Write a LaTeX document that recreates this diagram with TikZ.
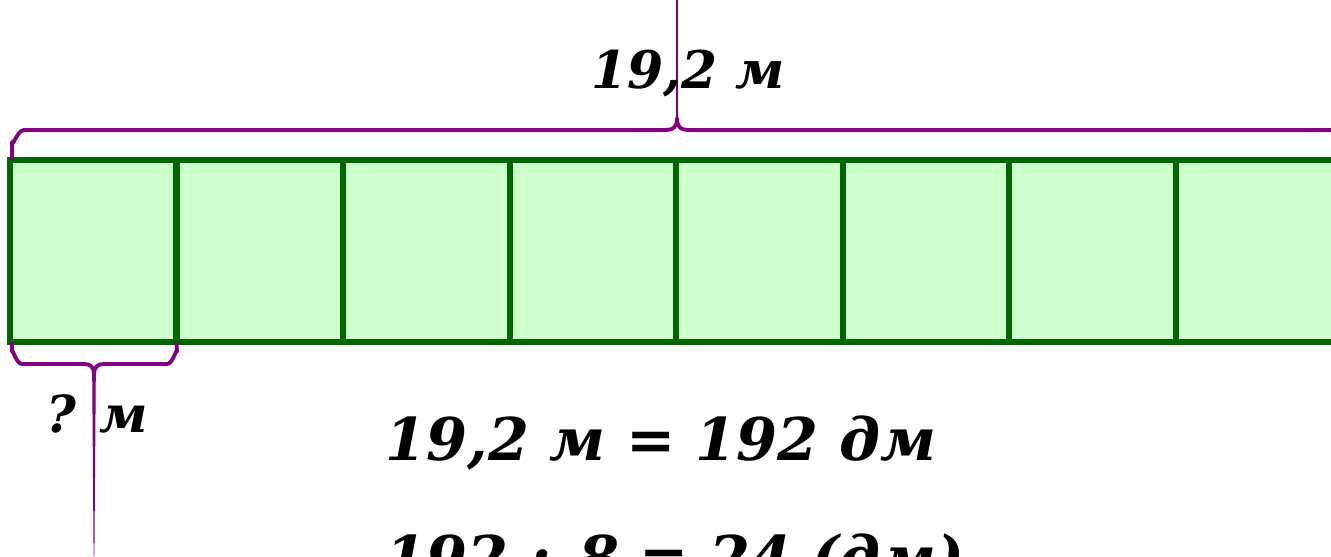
\documentclass[tikz,border=0pt]{standalone}
\usepackage{fontspec}
\setmainfont{DejaVu Serif}
\usepackage{xcolor}
\usepackage{tikz}
\usetikzlibrary{positioning,calc}
\definecolor{stripfill}{HTML}{CCFFCC}
\definecolor{stripline}{HTML}{006600}
\definecolor{bracecol}{HTML}{800080}

\begin{document}
\begin{tikzpicture}[x=0.02cm, y=-0.02cm,
  cell/.style={draw=stripline, fill=stripfill, line width=3.4pt, inner sep=0pt, outer sep=0pt,
    minimum width=3.33cm, minimum height=3.64cm},
  brc/.style={draw=bracecol, line width=2.2pt, line join=round},
  lbl/.style={inner sep=0pt, anchor=base, font=\bfseries\itshape\fontsize{29.5}{35}\selectfont},
  big/.style={inner sep=0pt, anchor=base, font=\bfseries\itshape\fontsize{33.5}{40}\selectfont}]
\clip (0,0) rectangle (1331,556);
\fill[white] (0,0) rectangle (1331,556);
\foreach \i in {1,...,8}
  \node[cell] (c\i) at ({10+166.5*(\i-0.5)},251) {};
\coordinate (ttip) at (677,118);
\coordinate (btip) at (94,375);
\draw[brc] ($(c1.north west)+(2,0)$) -- (12,142) to[out=-90,in=180] (24,130) -- (664,130)
  .. controls (674,130) and (677,127) .. (ttip)
  .. controls (677,127) and (680,130) .. (690,130) -- (1330,130) to[out=0,in=-90] (1342,142) -- (c8.north east);
\draw[bracecol, line width=1.6pt] (ttip) -- (677,0);
\draw[brc] ($(c1.south west)+(2,0)$) -- (12,352) to[out=90,in=180] (22,364) -- (84,364)
  .. controls (91,364) and (94,367) .. (btip)
  .. controls (94,367) and (97,364) .. (104,364) -- (167,364) to[out=0,in=90] (177,352) -- (c1.south east);
\fill[bracecol] (92.2,375) -- (95.8,375) -- (94.4,556) -- (93.6,556) -- cycle;
\node[lbl] (total) at (688,88) {19,2 м};
\node[lbl, font=\bfseries\itshape\fontsize{29}{35}\selectfont] (part) at (97,432) {?\hspace{0.45em}м};
\node[big] (conv) at (661,460) {19,2 м = 192 дм};
\node[big] (calc) at (675,578) {192 : 8 = 24 (дм)};
\end{tikzpicture}
\end{document}
